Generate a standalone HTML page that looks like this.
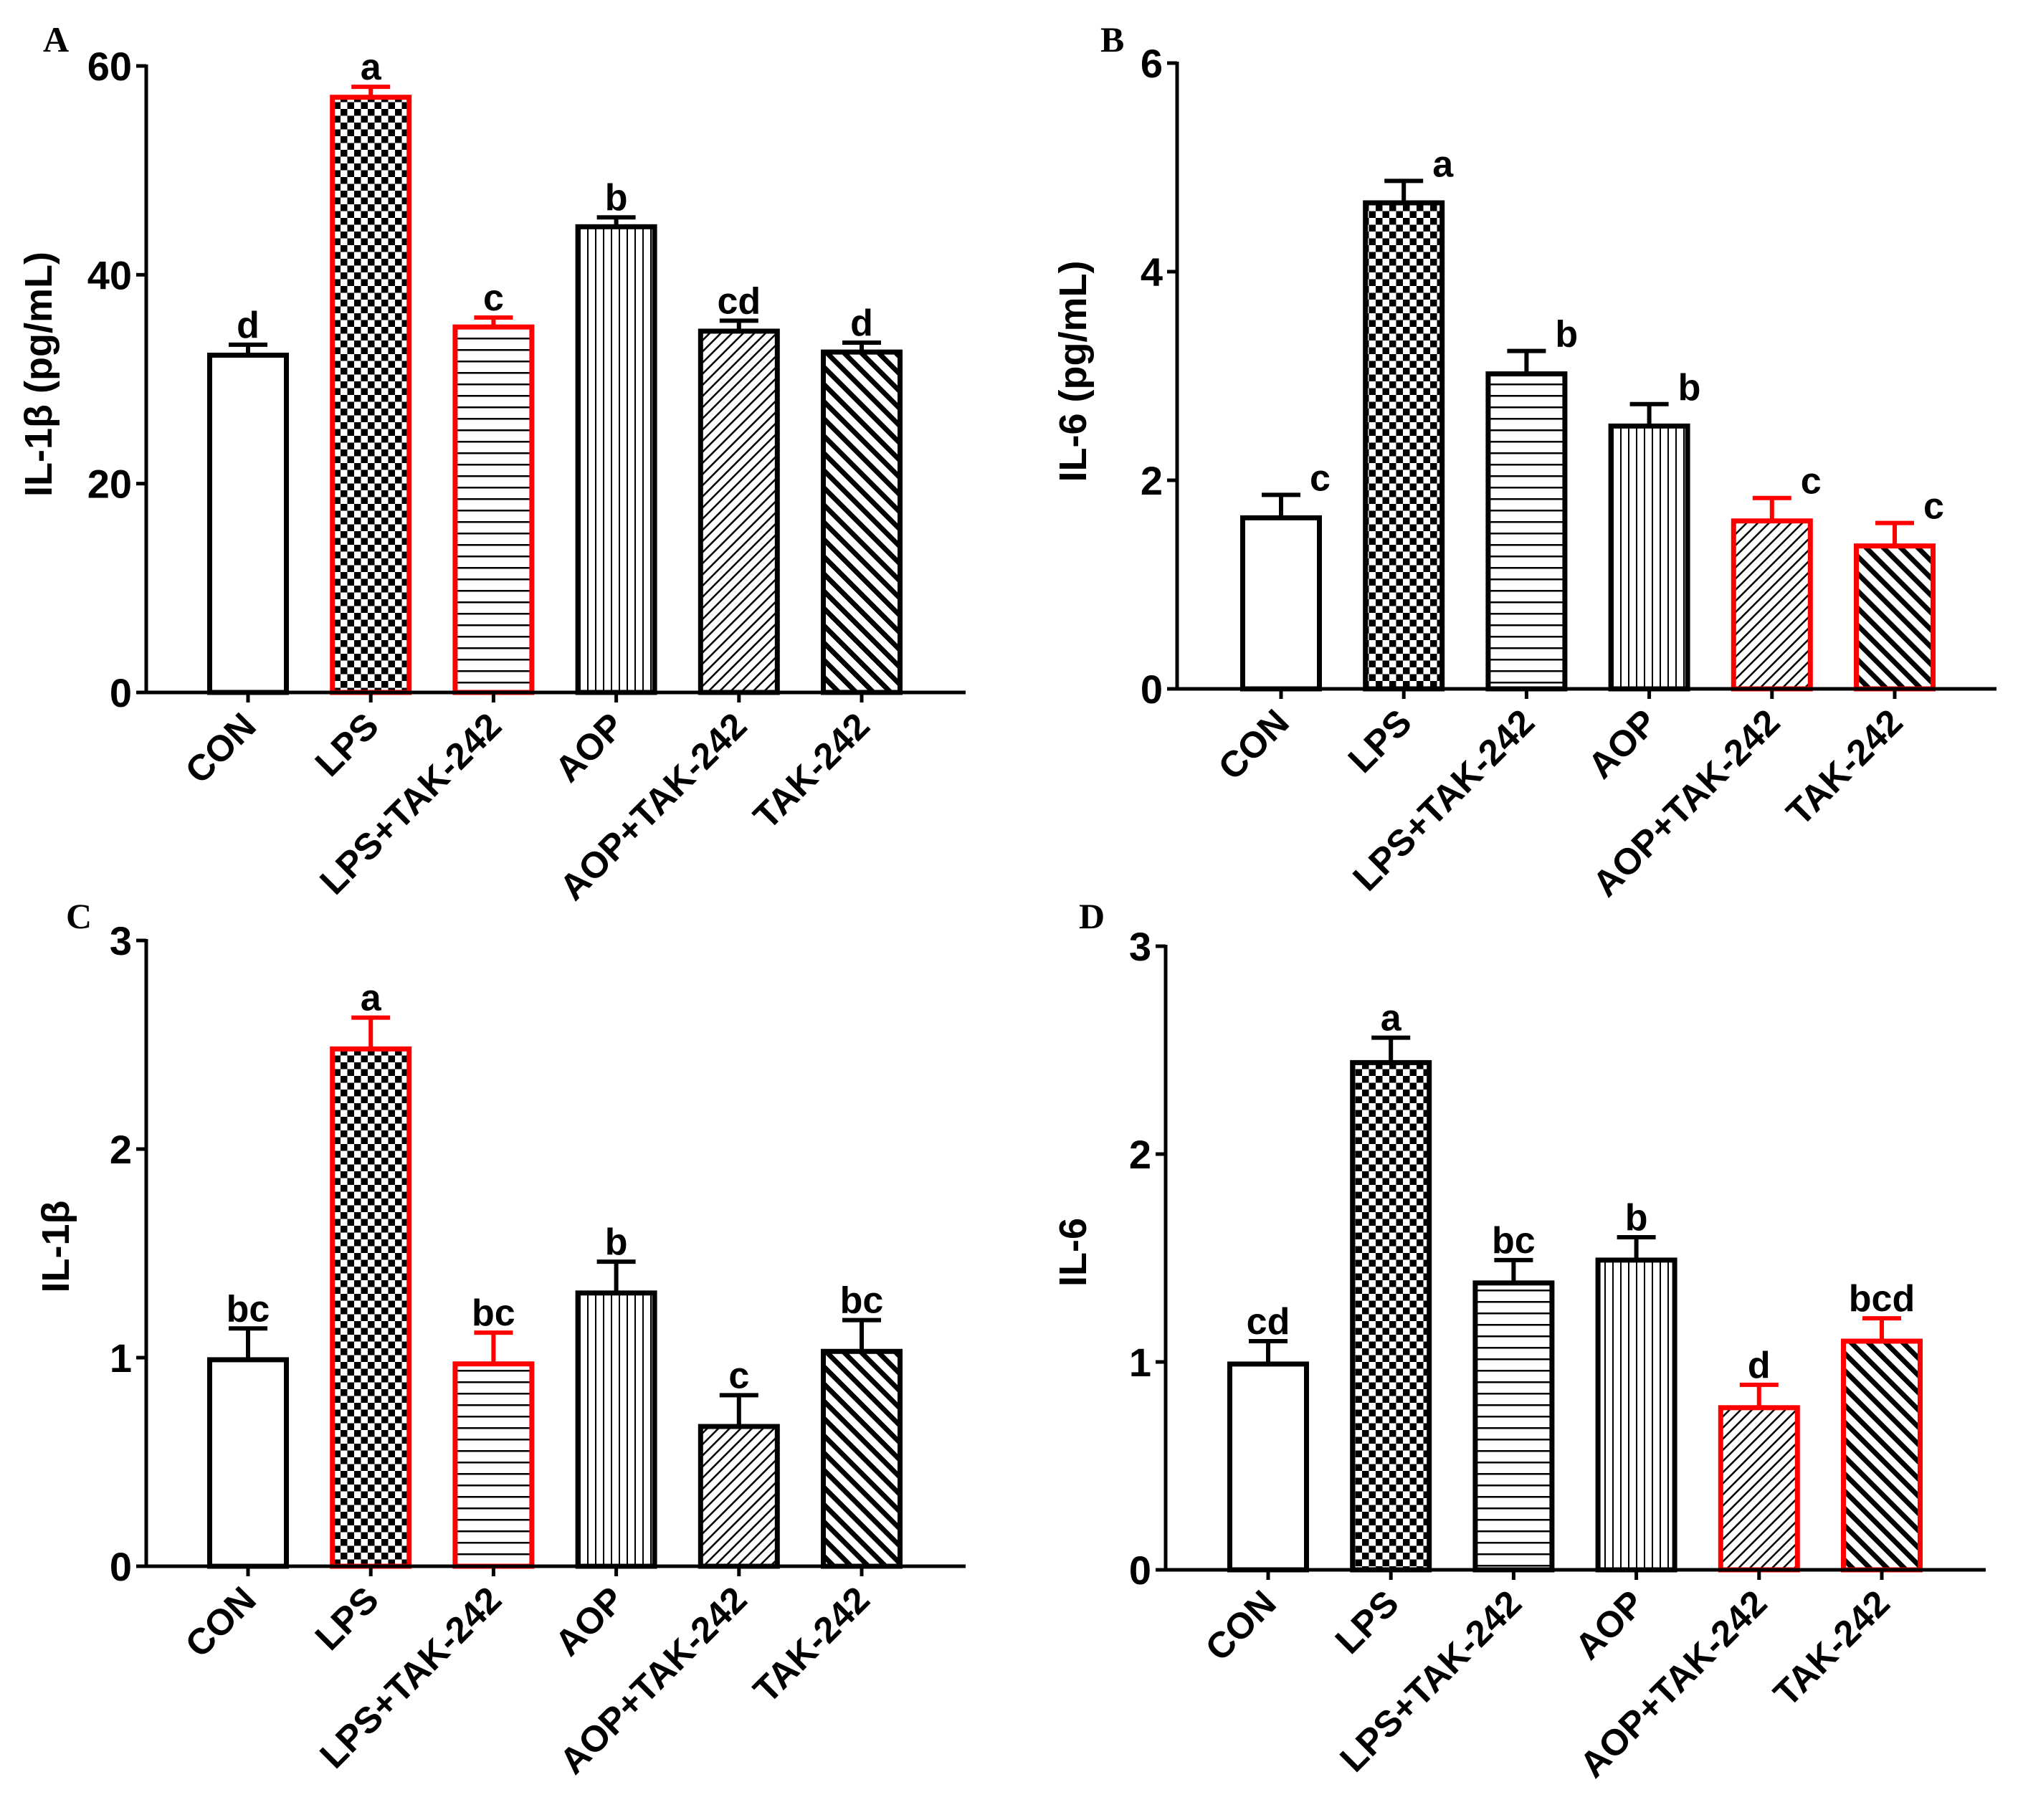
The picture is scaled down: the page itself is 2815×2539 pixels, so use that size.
<!DOCTYPE html>
<html><head><meta charset="utf-8"><style>
html,body{margin:0;padding:0;background:#fff;}
svg{display:block;}
text{font-family:"Liberation Sans",Arial,sans-serif;font-weight:bold;fill:#000;}
.pl{font-family:"Liberation Serif",serif;font-size:50px;}
</style></head><body>
<svg id="fig" width="2815" height="2539" viewBox="0 0 2815 2539" xmlns="http://www.w3.org/2000/svg">
<defs>
<pattern id="p-check" patternUnits="userSpaceOnUse" width="19" height="19"><rect width="19" height="19" fill="#fff"/><rect width="9.5" height="9.5" fill="#000"/><rect x="9.5" y="9.5" width="9.5" height="9.5" fill="#000"/></pattern>
<pattern id="p-hline" patternUnits="userSpaceOnUse" width="16" height="16"><rect width="16" height="16" fill="#fff"/><rect y="7" width="16" height="2.5" fill="#000"/></pattern>
<pattern id="p-vline" patternUnits="userSpaceOnUse" width="11" height="11"><rect width="11" height="11" fill="#fff"/><rect x="5" width="2" height="11" fill="#000"/></pattern>
<pattern id="p-fdiag" patternUnits="userSpaceOnUse" width="11" height="11" patternTransform="rotate(45)"><rect width="11" height="11" fill="#fff"/><rect x="4.5" width="2.5" height="11" fill="#000"/></pattern>
<pattern id="p-bdiag" patternUnits="userSpaceOnUse" width="17" height="17" patternTransform="rotate(-45)"><rect width="17" height="17" fill="#fff"/><rect x="5" width="7" height="17" fill="#000"/></pattern>
</defs>
<g id="root"></g>
</svg>
<script>
const categories = ["CON","LPS","LPS+TAK-242","AOP","AOP+TAK-242","TAK-242"];
const fills = ["#fff","url(#p-check)","url(#p-hline)","url(#p-vline)","url(#p-fdiag)","url(#p-bdiag)"];
// Panel A
const aValues = [32.3, 57.0, 35.0, 44.6, 34.6, 32.6];
const aErrors = [1.0, 1.0, 0.9, 0.9, 1.0, 0.9];
const aLetters = ["d","a","c","b","cd","d"];
const aTicks = [0, 20, 40, 60];
const aRed = [false,true,true,false,false,false];
// Panel B
const bValues = [1.64, 4.66, 3.02, 2.52, 1.61, 1.37];
const bErrors = [0.22, 0.21, 0.22, 0.21, 0.22, 0.22];
const bLetters = ["c","a","b","b","c","c"];
const bTicks = [0, 2, 4, 6];
const bRed = [false,false,false,false,true,true];
// Panel C
const cValues = [0.99, 2.48, 0.97, 1.31, 0.67, 1.03];
const cErrors = [0.15, 0.15, 0.15, 0.15, 0.15, 0.15];
const cLetters = ["bc","a","bc","b","c","bc"];
const cTicks = [0, 1, 2, 3];
const cRed = [false,true,true,false,false,false];
// Panel D
const dValues = [0.99, 2.44, 1.38, 1.49, 0.78, 1.10];
const dErrors = [0.11, 0.12, 0.11, 0.11, 0.11, 0.11];
const dLetters = ["cd","a","bc","b","d","bcd"];
const dTicks = [0, 1, 2, 3];
const dRed = [false,false,false,false,true,true];

const NS = "http://www.w3.org/2000/svg";
const root = document.getElementById("root");
function mk(tag, attrs, parent, txt){
  const e = document.createElementNS(NS, tag);
  for (const k in attrs) e.setAttribute(k, attrs[k]);
  if (txt !== undefined) e.textContent = txt;
  parent.appendChild(e);
  return e;
}
function panel(cfg, values, errors, letters, ticks, red){
  const g = mk("g", {}, root);
  
  
  const ymax = ticks[ticks.length-1];
  const yS = v => cfg.y0 - (v/ymax)*(cfg.y0-cfg.yTop);
  const xS = i => cfg.x1 + i*cfg.step;
  const pl = mk("text", {x:cfg.lx, y:cfg.ly, class:"pl"}, g, cfg.id);
  
  
  const yt = mk("text", {x:cfg.tx, y:cfg.ty, "font-size":54, "text-anchor":"middle", transform:`rotate(-90 ${cfg.tx} ${cfg.ty})`}, g, cfg.title);
  
  
  for (let i=0;i<values.length;i++){
    const cx = xS(i), w = 107;
    const col = red[i] ? "#ff0000" : "#000";
    const top = yS(values[i]), cap = yS(values[i]+errors[i]);
    const eb = mk("g", {stroke:col, "stroke-width":6, fill:"none"}, g);
    
    
    mk("line", {x1:cx, y1:top, x2:cx, y2:cap}, eb);
    mk("line", {x1:cx-27, y1:cap, x2:cx+27, y2:cap}, eb);
    const r = mk("rect", {x:cx-w/2, y:top, width:w, height:cfg.y0-top, fill:fills[i], stroke:col, "stroke-width":7}, g);
    
    
    let lt;
    if (cfg.side) lt = mk("text", {x:cx+40, y:cap-6, "font-size":52}, g, letters[i]);
    else lt = mk("text", {x:cx, y:cap-10, "font-size":52, "text-anchor":"middle"}, g, letters[i]);
    
    
    const tk = mk("line", {x1:cx, y1:cfg.y0, x2:cx, y2:cfg.y0+14, stroke:"#000", "stroke-width":5}, g);
    
    
    const lx = cx+14, ly = cfg.y0+50;
    const cl = mk("text", {x:lx, y:ly, "font-size":51, "text-anchor":"end", transform:`rotate(-45 ${lx} ${ly})`}, g, categories[i]);
    
    
  }
  for (const t of ticks){
    const y = yS(t);
    const tl = mk("line", {x1:cfg.ax-14, y1:y, x2:cfg.ax, y2:y, stroke:"#000", "stroke-width":5}, g);
    
    
    const tt = mk("text", {x:cfg.ax-20, y:y+20, "font-size":56, "text-anchor":"end"}, g, String(t));
    
    
  }
  const ya = mk("line", {x1:cfg.ax, y1:cfg.yTop-2, x2:cfg.ax, y2:cfg.y0+2.5, stroke:"#000", "stroke-width":5}, g);
  
  
  const xa = mk("line", {x1:cfg.ax-2.5, y1:cfg.y0, x2:cfg.xEnd, y2:cfg.y0, stroke:"#000", "stroke-width":5}, g);
  
  
}
panel({id:"A", ax:204, yTop:92, y0:966, x1:346, step:171.2, xEnd:1347, lx:60, ly:72, tx:72, ty:522, title:"IL-1β (pg/mL)", side:false}, aValues, aErrors, aLetters, aTicks, aRed);
panel({id:"B", ax:1642, yTop:88, y0:961, x1:1787, step:171.2, xEnd:2785, lx:1535, ly:72, tx:1515, ty:518, title:"IL-6 (pg/mL)", side:true}, bValues, bErrors, bLetters, bTicks, bRed);
panel({id:"C", ax:204, yTop:1312, y0:2185, x1:346, step:171.2, xEnd:1347, lx:92, ly:1295, tx:96, ty:1739, title:"IL-1β", side:false}, cValues, cErrors, cLetters, cTicks, cRed);
panel({id:"D", ax:1626, yTop:1320, y0:2190, x1:1769, step:171.2, xEnd:2770, lx:1505, ly:1295, tx:1515, ty:1747, title:"IL-6", side:false}, dValues, dErrors, dLetters, dTicks, dRed);
</script>
</body></html>
